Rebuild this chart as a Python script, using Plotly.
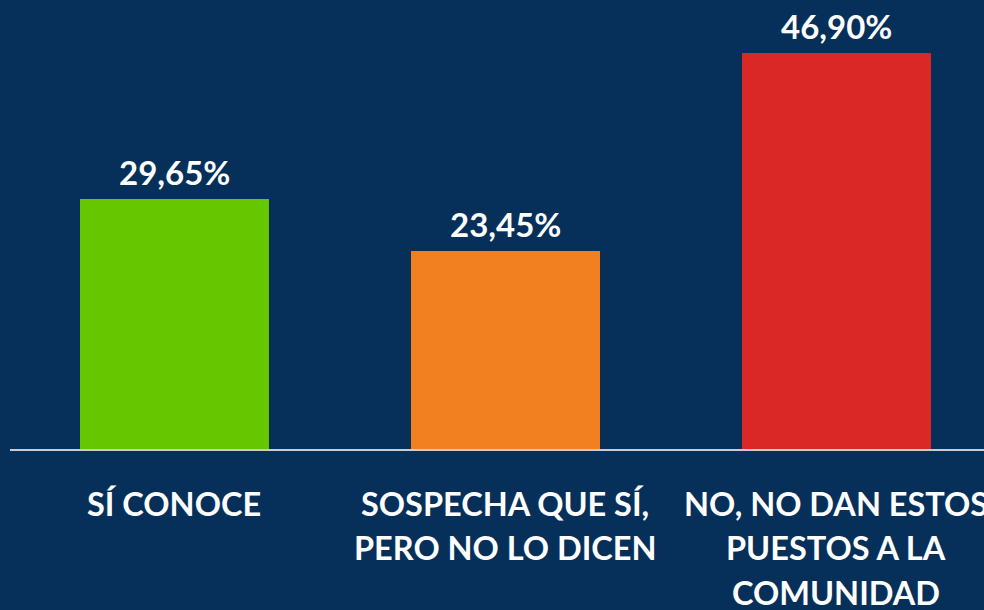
import plotly.graph_objects as go

categories = ["SÍ CONOCE", "SOSPECHA QUE SÍ,<br>PERO NO LO DICEN", "NO, NO DAN ESTOS<br>PUESTOS A LA<br>COMUNIDAD"]
values = [29.65, 23.45, 46.90]
value_labels = ["29,65%", "23,45%", "46,90%"]
colors = ["#66C600", "#F28020", "#D92826"]

BG = "#06305A"
FONT = "Lato"

xs = list(range(len(values)))

fig = go.Figure()
fig.add_trace(go.Bar(
    x=xs, y=values, width=0.571,
    marker=dict(color=colors, line=dict(width=0)),
    hoverinfo="skip",
))

for i, (v, lab) in enumerate(zip(values, value_labels)):
    fig.add_annotation(
        x=i, xref="x", y=v, yref="y", yanchor="middle", yshift=27,
        text=lab, showarrow=False,
        font=dict(family=FONT, size=33, color="white", weight=700),
    )

for i, cat in enumerate(categories):
    for j, line in enumerate(cat.split("<br>")):
        fig.add_annotation(
            x=i, xref="x", y=0, yref="paper", yanchor="middle",
            yshift=-54 - 44.5 * j, text=line, showarrow=False,
            font=dict(family=FONT, size=32.5, color="white", weight=700),
        )

fig.update_layout(
    width=984, height=610,
    paper_bgcolor=BG, plot_bgcolor=BG,
    margin=dict(l=10, r=0, t=0, b=161),
    showlegend=False,
    bargap=0,
    xaxis=dict(range=[-0.497, 2.446], showticklabels=False, showgrid=False,
               zeroline=False, showline=True, linecolor="#C9CDD2", linewidth=2,
               ticks=""),
    yaxis=dict(range=[0, 53.2], visible=False, showgrid=False, zeroline=False),
)

fig.write_html("out.html", config={"displayModeBar": False},
               post_script="document.body.style.margin='0';")
